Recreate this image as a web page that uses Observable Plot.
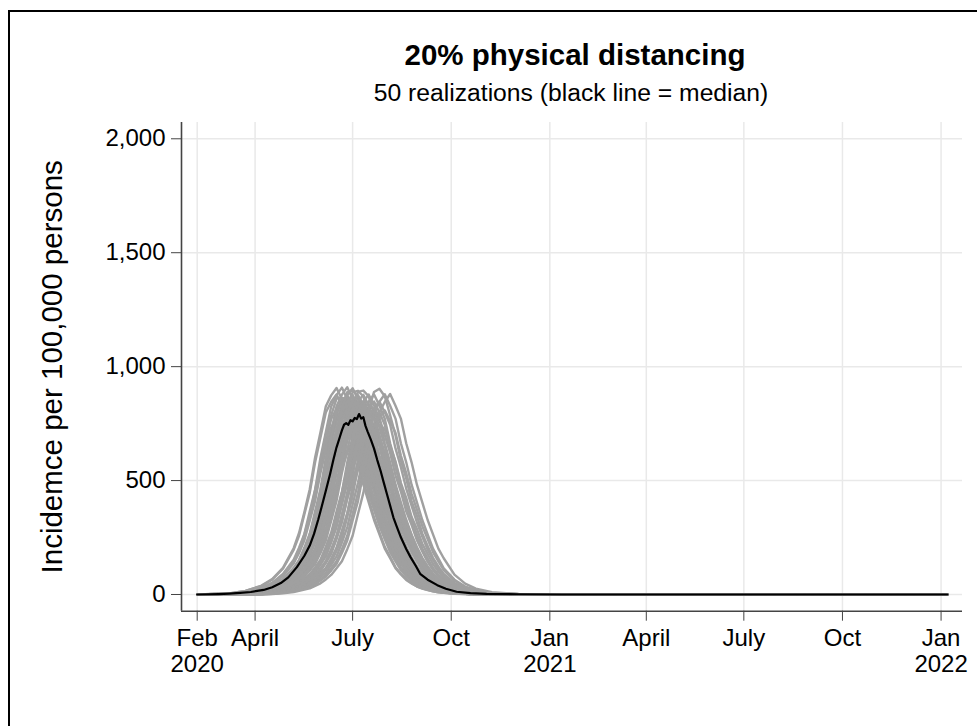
<!DOCTYPE html>
<html><head><meta charset="utf-8">
<script src="https://cdn.jsdelivr.net/npm/d3@7"></script>
<script src="https://cdn.jsdelivr.net/npm/@observablehq/plot@0.6"></script>
<style>
html,body{margin:0;padding:0;background:#fff;overflow:hidden;width:977px;height:726px;}
#frame{position:absolute;left:8px;top:10px;width:2000px;height:2000px;border-top:2px solid #000;border-left:2px solid #000;pointer-events:none;z-index:5;}
.t{position:absolute;white-space:nowrap;font-family:"Liberation Sans",Arial,sans-serif;line-height:1;transform:translateX(-50%);color:#000;}
#title{left:575px;top:40px;font-size:29.5px;font-weight:bold;}
#subtitle{left:571px;top:81px;font-size:24.7px;}
#chart{position:absolute;left:0;top:110px;}
</style></head><body>
<div id="frame"></div>
<div id="title" class="t">20% physical distancing</div>
<div id="subtitle" class="t">50 realizations (black line = median)</div>
<div id="chart"></div>
<script>
// ---- data ----
const startDate = "2020-02-07";
const yTitle = "Incidemce per 100,000 persons";
const yTicks = [0, 500, 1000, 1500, 2000];
const xTickDates = ["2020-02-07","2020-04-01","2020-07-01","2020-10-01","2021-01-01","2021-04-01","2021-07-01","2021-10-01","2022-01-01"];
const xTickLabels = ["Feb\n2020","April","July","Oct","Jan\n2021","April","July","Oct","Jan\n2022"];

// days since start for the realization samples
const sampleDays = [0,30,45,60,70,80,90,95,100,105,110,115,120,125,130,135,140,145,150,155,160,165,170,175,180,185,190,195,200,205,210,215,220,225,230,240,250,260,275,300,700];

const realizations = [
[0,5,16,39,68,117,203,270,362,462,601,712,826,874,906,858,797,688,601,498,418,338,274,209,165,120,91,68,50,36,27,20,14,10,7,4,2,1,0,0,0],
[0,5,16,37,65,113,196,258,352,446,580,689,799,846,878,829,770,664,579,482,404,327,264,201,159,115,88,64,48,35,26,19,14,10,7,3,2,1,0,0,0],
[0,4,12,29,51,90,153,205,266,365,461,600,713,825,875,908,856,798,686,600,498,420,337,274,208,165,120,91,67,50,36,27,20,14,10,5,3,1,0,0,0],
[0,3,11,27,48,84,143,191,249,341,431,560,665,770,816,846,799,744,641,558,465,390,315,255,194,153,111,85,62,46,34,25,18,13,9,5,3,1,0,0,0],
[0,3,11,28,50,87,148,194,264,344,458,568,702,786,860,864,841,760,676,569,491,396,334,258,206,155,118,86,65,48,35,26,19,14,10,5,3,1,0,0,0],
[0,3,10,26,46,80,136,182,238,324,411,533,634,734,778,806,762,709,611,532,444,371,301,242,186,145,107,80,60,44,32,24,18,13,9,5,3,1,0,0,0],
[0,2,8,22,39,68,117,151,206,267,365,462,599,714,826,877,910,858,797,688,598,500,417,339,272,210,163,121,90,68,50,36,27,20,14,7,4,2,1,0,0],
[0,2,8,21,37,65,113,150,193,264,343,457,569,701,787,858,866,840,761,675,570,490,397,333,259,205,156,118,87,65,48,35,26,19,14,7,3,2,1,0,0],
[0,2,8,20,36,63,109,141,192,249,339,433,559,667,769,818,846,801,743,642,558,467,389,316,254,196,152,112,84,63,46,34,25,18,13,7,3,2,1,0,0],
[0,2,8,20,36,63,109,145,187,255,332,441,550,677,759,829,836,811,735,651,550,473,383,321,250,198,150,114,84,63,46,34,25,18,13,7,3,2,1,0,0],
[0,2,7,19,34,60,104,138,178,243,316,420,523,646,722,790,795,773,699,620,524,451,365,306,238,189,143,108,80,60,44,32,24,18,13,6,3,2,1,0,0],
[0,2,7,18,32,56,98,126,171,222,304,386,500,595,689,729,756,714,665,573,499,416,348,283,226,175,136,100,75,56,41,30,23,17,12,6,3,2,1,0,0],
[0,2,8,21,37,65,113,146,199,258,352,448,579,690,798,847,875,829,771,665,578,484,403,328,263,202,158,116,87,65,48,35,26,19,14,7,3,2,1,0,0],
[0,1,5,16,29,51,90,119,151,206,266,364,463,600,714,825,876,905,858,798,688,599,500,418,339,273,210,163,121,90,68,50,36,27,20,10,5,3,1,0,0],
[0,1,5,16,28,50,87,111,150,193,264,344,457,569,702,786,859,866,840,761,675,570,490,397,333,259,205,156,118,87,65,48,35,26,19,10,5,3,1,0,0],
[0,1,5,15,27,48,84,110,141,192,249,340,432,559,667,770,817,846,800,744,642,558,466,389,317,253,196,152,113,84,63,46,34,25,18,9,5,3,1,0,0],
[0,1,5,14,26,46,80,103,138,178,243,316,421,523,646,722,790,796,773,699,620,524,451,365,306,238,189,143,108,80,60,44,32,24,18,9,5,3,1,0,0],
[0,1,5,16,28,50,87,115,146,199,258,352,447,580,690,798,847,876,829,771,664,578,483,403,328,263,202,158,116,87,65,48,35,26,19,10,5,3,1,0,0],
[0,1,5,14,24,43,75,97,130,167,228,296,394,490,606,677,741,745,725,655,582,491,423,342,287,223,177,134,101,75,56,41,30,23,17,8,5,2,1,0,0],
[0,1,5,15,27,48,84,108,145,187,255,333,441,550,677,759,829,835,811,734,651,550,474,383,321,250,198,150,114,84,63,46,34,25,18,9,5,3,1,0,0],
[0,1,5,16,29,51,90,116,155,200,273,356,472,589,726,813,888,896,869,787,698,590,507,411,344,268,213,161,122,90,68,50,36,27,20,10,5,3,1,0,0],
[0,1,4,12,22,39,68,91,116,155,200,274,356,473,589,726,813,888,894,869,787,698,590,507,411,344,268,213,161,122,90,68,50,36,27,14,7,4,1,0,0],
[0,1,3,11,21,37,65,86,114,146,198,258,352,447,579,690,797,848,875,830,770,665,578,484,402,329,262,203,157,117,87,65,48,35,26,14,7,3,1,0,0],
[0,1,3,11,20,36,63,85,108,145,187,255,332,441,550,678,758,829,835,812,734,652,550,473,384,320,251,197,151,113,84,63,46,34,25,13,7,3,1,0,0],
[0,1,3,10,19,34,60,79,105,134,182,237,324,411,533,634,734,778,806,762,709,611,532,444,371,301,242,187,144,108,80,60,44,32,24,13,6,3,1,0,0],
[0,1,3,10,18,32,56,76,97,130,167,228,296,394,490,606,677,741,745,725,655,582,491,423,342,287,223,177,134,101,75,56,41,30,23,12,6,3,1,0,0],
[0,1,3,9,17,30,52,70,89,119,153,210,272,364,450,557,622,682,686,667,602,536,451,389,315,263,206,162,124,93,69,52,38,28,21,11,6,3,1,0,0],
[0,1,3,11,21,37,65,88,111,150,193,264,344,457,569,701,787,858,864,841,761,675,570,490,397,333,259,205,156,118,87,65,48,35,26,14,7,3,1,0,0],
[0,1,3,11,20,36,63,83,110,141,192,249,340,432,559,667,770,817,846,800,744,642,558,466,389,317,253,196,152,113,84,63,46,34,25,13,7,3,1,0,0],
[0,0,2,8,16,28,50,66,86,115,146,199,258,352,447,580,690,798,847,877,829,771,665,578,484,403,328,263,202,158,116,87,65,48,35,19,10,5,2,0,0],
[0,0,2,8,15,27,48,62,85,108,145,187,255,332,441,549,678,758,829,834,812,733,652,549,474,383,321,250,198,150,114,84,63,46,34,18,9,5,2,0,0],
[0,0,2,7,14,26,46,61,79,105,134,182,237,324,411,533,634,734,778,807,762,709,611,532,444,371,301,242,187,145,107,80,60,44,32,18,9,5,2,0,0],
[0,0,2,6,12,22,39,51,70,89,119,153,210,272,364,450,557,622,682,685,668,602,536,451,389,314,264,205,163,124,93,69,52,38,28,15,8,4,2,0,0],
[0,0,2,6,11,20,36,48,62,84,105,144,186,256,324,421,499,579,612,636,600,559,480,420,350,292,237,190,147,113,85,63,47,35,25,14,7,4,1,0,0],
[0,0,2,8,16,29,51,67,91,116,155,200,274,356,473,589,727,812,889,895,870,786,699,590,508,410,345,268,213,161,123,90,68,50,36,20,10,5,2,0,0],
[0,0,1,5,11,21,37,49,66,86,115,146,199,258,352,447,580,689,799,846,878,829,771,664,579,483,404,328,263,202,158,116,87,65,48,26,14,7,3,0,0],
[0,0,1,5,11,20,36,49,62,85,108,145,187,255,332,442,549,678,758,830,834,812,733,653,549,474,383,321,250,198,150,114,84,63,46,25,13,7,3,0,0],
[0,0,1,5,10,18,32,44,55,76,97,130,167,228,296,394,490,606,677,741,744,726,655,583,491,423,342,287,223,177,134,101,75,56,41,23,12,6,3,0,0],
[0,0,1,4,8,15,27,35,48,62,84,105,144,186,256,324,421,498,579,611,637,599,559,480,421,349,293,237,190,147,113,85,63,47,35,19,10,5,2,0,0],
[0,0,1,5,10,19,34,47,59,81,103,138,178,243,316,421,523,646,722,790,795,774,699,621,524,452,365,306,238,189,143,108,80,60,44,24,13,6,3,0,0],
[0,0,1,3,8,16,28,38,49,66,86,115,146,199,258,352,447,580,690,798,847,878,829,771,664,579,483,404,328,263,202,158,116,87,65,35,19,10,3,1,0],
[0,0,1,3,7,14,26,33,47,59,81,103,138,178,243,316,421,523,646,721,790,795,774,698,621,523,452,365,306,238,189,143,108,80,60,32,18,9,2,1,0],
[0,0,1,3,6,12,22,31,38,53,68,92,115,157,205,279,355,460,547,634,671,694,657,612,526,460,383,319,260,208,161,124,93,69,52,28,15,8,2,1,0],
[0,0,1,3,8,15,27,37,47,64,83,111,141,192,249,340,432,560,666,770,817,847,800,745,641,559,465,390,316,254,196,152,112,84,63,34,18,9,3,1,0],
[0,0,0,2,5,12,22,30,38,52,67,91,116,155,201,274,356,473,589,727,812,889,903,870,786,699,589,509,410,345,268,213,161,123,90,50,27,14,5,1,0],
[0,0,0,2,5,11,20,26,37,47,64,83,111,141,192,249,340,432,560,666,771,817,847,800,745,641,559,465,390,316,254,196,152,112,84,46,25,13,5,1,0],
[0,0,0,2,5,10,18,25,31,44,55,76,97,130,167,228,296,395,490,607,677,742,745,726,654,583,490,424,341,288,223,177,134,101,75,41,23,12,5,1,0],
[0,0,0,1,3,8,16,22,27,38,49,66,86,115,146,199,258,353,446,580,689,799,846,879,828,772,664,580,482,404,327,264,201,159,115,65,35,19,7,1,0],
[0,0,0,1,3,7,14,20,25,35,45,61,79,105,134,182,237,325,410,534,633,735,777,808,761,710,610,533,443,372,300,243,186,145,107,60,32,18,6,1,0],
[0,0,0,1,2,5,11,16,22,27,38,49,66,86,115,146,199,258,353,446,581,688,800,845,880,828,772,664,580,482,404,327,264,201,159,87,48,26,10,2,0]
];

const medianDays = [0,20,30,40,50,62,70,78,85,93,100,105,109,113,116,120,124,127,130,133,135,137,139,141,143,145,147,149,151,153,155,157,159,162,165,168,171,174,177,180,183,186,190,195,199,204,208,215,224,232,242,255,270,300,340,700];
const medianValues = [0,2,4,7,11,20,32,50,75,120,170,215,266,330,383,455,529,590,646,690,720,745,752,745,765,760,775,770,792,772,778,740,715,680,640,590,544,492,441,390,339,300,251,200,164,125,91,65,41,25,12,6,3,1,0,0];

// ---- build ----
const start = new Date(startDate + "T00:00:00Z");
const toDate = t => new Date(start.getTime() + t * 864e5);
const grayRows = realizations.flatMap((vals, k) => vals.map((v, i) => ({run: k, date: toDate(sampleDays[i]), value: v})));
const medianRows = medianDays.map((t, i) => ({date: toDate(t), value: medianValues[i]}));
const tickDates = xTickDates.map(s => new Date(s + "T00:00:00Z"));
const labelByTime = new Map(tickDates.map((d, i) => [+d, xTickLabels[i]]));
const xDomain = [toDate(-14.65), toDate(714)];
const yDomain = [-73.3, 2071.5];
const axisColor = "#444";
const gridColor = "#e9e9e9";

const chart = Plot.plot({
  width: 977,
  height: 616,
  marginLeft: 181,
  marginRight: 15,
  marginTop: 12,
  marginBottom: 115.3,
  style: {fontFamily: '"Liberation Sans", Arial, sans-serif', fontSize: "24px", background: "transparent", color: "#000", overflow: "visible"},
  x: {type: "utc", domain: xDomain},
  y: {domain: yDomain},
  marks: [
    Plot.gridX(tickDates, {stroke: gridColor, strokeOpacity: 1, strokeWidth: 1.5}),
    Plot.gridY(yTicks, {stroke: gridColor, strokeOpacity: 1, strokeWidth: 1.5}),
    Plot.line(grayRows, {x: "date", y: "value", z: "run", stroke: "#a0a0a0", strokeWidth: 2.4, strokeLinejoin: "round"}),
    Plot.line(medianRows, {x: "date", y: "value", stroke: "#000", strokeWidth: 2.2}),
    Plot.ruleX([xDomain[0]], {stroke: axisColor, strokeWidth: 1.6}),
    Plot.ruleY([yDomain[0]], {stroke: axisColor, strokeWidth: 1.6}),
    Plot.axisX(tickDates, {tickFormat: d => labelByTime.get(+d), tickSize: 10, tickPadding: 6, label: null, stroke: axisColor, fill: "#000", lineHeight: 1.08}),
    Plot.axisY(yTicks, {tickFormat: d3.format(","), tickSize: 10, tickPadding: 6, label: null, stroke: axisColor, fill: "#000"}),
    Plot.text([yTitle], {text: d => d, frameAnchor: "left", rotate: -90, dx: -120, lineAnchor: "bottom", textAnchor: "middle", fontSize: 29.5, fill: "#000"})
  ]
});
document.getElementById("chart").appendChild(chart);
</script></body></html>
